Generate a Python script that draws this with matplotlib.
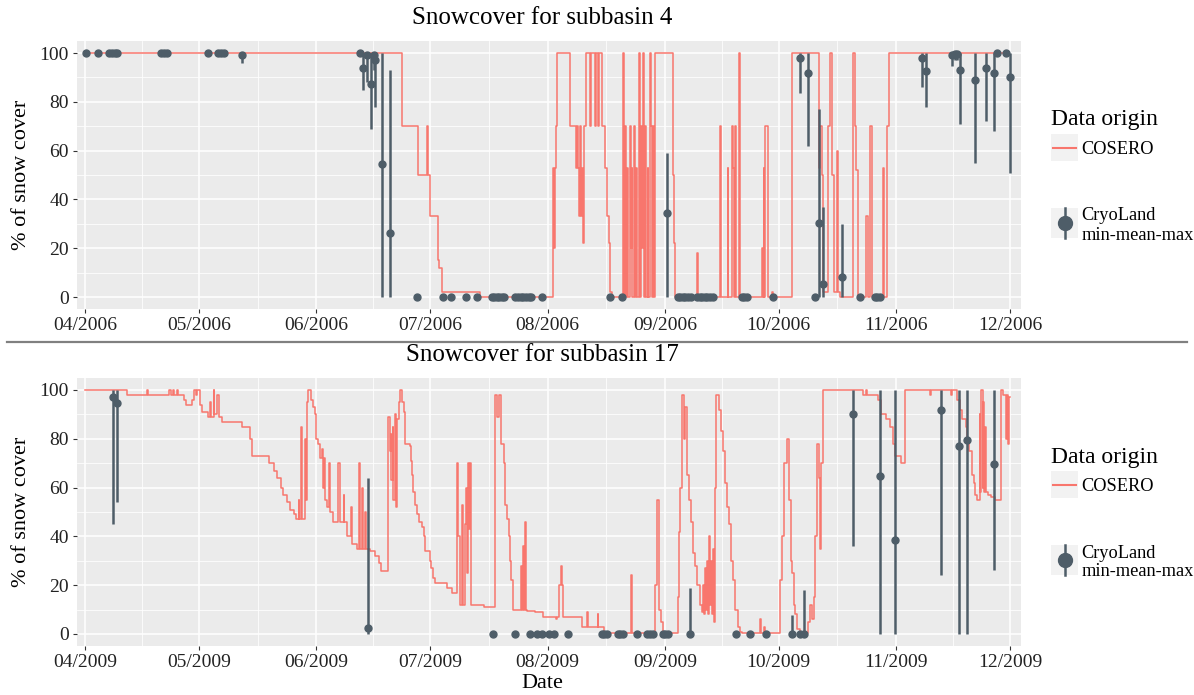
import numpy as np
import pandas as pd
import matplotlib
matplotlib.use('Agg')
import matplotlib.pyplot as plt
import matplotlib.dates as mdates
from matplotlib.patches import Rectangle
from matplotlib.lines import Line2D

plt.rcParams['font.family'] = ['Liberation Serif', 'DejaVu Serif']

# ---------------- subbasin 4, 2006 (days since 1 April) ----------------
start_4 = '2006-04-01'
cos4_day = [0, 83.6, 87.7, 90.2, 90.5, 91.0, 93.0, 93.4, 94.1, 104.2,
            123.4, 123.7, 124.0, 124.3, 124.6, 128.0, 129.5, 129.8, 130.0, 130.3,
            130.6, 130.9, 131.1, 131.4, 131.6, 132.1, 133.2, 133.5, 134.6, 134.8,
            135.4, 135.6, 136.3, 137.2, 137.7, 138.1, 138.5, 139.1, 141.9, 142.1,
            142.5, 142.7, 143.0, 143.3, 143.7, 143.9, 144.2, 144.4, 144.9, 145.1,
            145.4, 145.6, 146.2, 146.4, 146.7, 146.9, 147.2, 147.4, 147.8, 148.0,
            148.4, 148.6, 149.0, 149.2, 149.5, 149.8, 150.1, 150.4, 155.0, 155.3,
            155.7, 161.4, 161.7, 167.5, 167.7, 169.5, 169.7, 170.6, 170.9, 171.2,
            171.5, 171.8, 172.6, 172.8, 178.5, 178.8, 179.0, 179.2, 179.4, 180.3,
            181.3, 181.5, 186.5, 193.5, 193.9, 194.5, 194.8, 196.0, 196.6, 197.0,
            197.6, 198.3, 198.6, 199.2, 202.5, 203.0, 203.4, 204.0, 206.1, 206.6,
            207.0, 207.6, 210.6, 210.9, 211.5, 212.0, 243.8]
cos4_val = [100, 70, 50, 70, 50, 33, 15, 12, 2, 0,
            53, 20, 53, 70, 100, 70, 53, 70, 53, 33,
            70, 33, 53, 22, 70, 100, 70, 100, 70, 100,
            70, 100, 70, 53, 33, 22, 2, 0, 100, 0,
            70, 0, 53, 0, 70, 20, 53, 0, 70, 0,
            53, 0, 100, 0, 70, 20, 100, 0, 70, 0,
            53, 0, 100, 70, 0, 70, 0, 100, 50, 22,
            0, 18, 0, 70, 0, 53, 0, 70, 53, 0,
            70, 0, 100, 0, 20, 0, 53, 0, 70, 0,
            2, 0, 100, 53, 70, 50, 2, 70, 100, 50,
            2, 60, 2, 0, 100, 70, 52, 0, 33, 0,
            70, 0, 53, 0, 70, 100, 100]

cry4_day = [0.3, 3.3, 6.3, 7.1, 7.9, 8.4, 20.0, 20.7, 21.5, 32.3,
            35.1, 35.8, 36.5, 41.4, 72.4, 73.4, 74.3, 75.5, 76.1, 76.5,
            78.4, 80.5, 87.5, 94.5, 96.6, 100.5, 103.4, 107.3, 107.9, 108.6,
            109.3, 110.1, 110.6, 113.5, 114.2, 114.9, 115.6, 116.3, 117.0, 117.7,
            120.5, 138.5, 141.6, 153.6, 156.3, 157.0, 157.7, 158.4, 159.1, 159.8,
            161.4, 162.1, 162.8, 163.5, 164.2, 164.9, 165.6, 173.3, 173.9, 174.6,
            181.6, 188.7, 190.7, 192.6, 193.6, 194.6, 199.7, 204.5, 208.4, 209.0,
            209.8, 220.8, 221.8, 228.7, 229.4, 230.0, 230.9, 234.8, 237.7, 239.8,
            240.7, 242.9, 243.9]
cry4_mean = [100, 100, 100, 100, 100, 100, 100, 100, 100, 100,
             100, 100, 100, 99, 100, 94, 99, 87.5, 99, 97,
             54.5, 26.4, 0, 0, 0, 0, 0, 0, 0, 0,
             0, 0, 0, 0, 0, 0, 0, 0, 0, 0,
             0, 0, 0, 34.3, 0, 0, 0, 0, 0, 0,
             0, 0, 0, 0, 0, 0, 0, 0, 0, 0,
             0, 97.8, 92, 0, 30.5, 5.2, 8.3, 0, 0, 0,
             0, 98, 92.8, 99, 99.5, 99.5, 93, 89, 94, 92,
             100, 100, 90]
cry4_min = [100, 100, 100, 100, 100, 100, 100, 100, 100, 100,
            100, 100, 100, 96, 100, 85, 88, 69, 93, 78,
            0, 0, 0, 0, 0, 0, 0, 0, 0, 0,
            0, 0, 0, 0, 0, 0, 0, 0, 0, 0,
            0, 0, 0, 0, 0, 0, 0, 0, 0, 0,
            0, 0, 0, 0, 0, 0, 0, 0, 0, 0,
            0, 83.5, 62, 0, 0, 0, 0, 0, 0, 0,
            0, 86, 78, 94.5, 97, 97, 71, 55, 72, 68,
            100, 100, 51]
cry4_max = [100, 100, 100, 100, 100, 100, 100, 100, 100, 100,
            100, 100, 100, 100, 100, 100, 100, 100, 100, 100,
            100, 93, 0, 0, 0, 0, 0, 0, 0, 0,
            0, 0, 0, 0, 0, 0, 0, 0, 0, 0,
            0, 0, 0, 59, 0, 0, 0, 0, 0, 0,
            0, 0, 0, 0, 0, 0, 0, 0, 0, 0,
            0, 100, 100, 0, 77, 37, 29.8, 0, 0, 0,
            0, 100, 100, 100, 100, 100, 100, 100, 100, 100,
            100, 100, 100]

# ---------------- subbasin 17, 2009 (days since 1 April) ----------------
start_17 = '2009-04-01'
cos17_day = [0, 11.0, 16.4, 16.6, 22.2, 22.6, 23.1, 23.5, 24.2, 24.5,
             26.1, 26.6, 28.1, 28.6, 29.3, 29.6, 30.3, 30.8, 32.5, 33.0,
             33.2, 33.9, 34.1, 34.9, 35.3, 36.1, 41.3, 43.5, 44.0, 48.4,
             49.7, 50.6, 51.6, 52.3, 53.2, 54.1, 55.0, 55.7, 56.3, 56.5,
             56.9, 57.2, 58.0, 58.3, 58.5, 58.9, 59.5, 60.1, 60.7, 60.9,
             61.3, 62.0, 62.4, 62.7, 63.1, 63.4, 63.8, 64.3, 64.6, 65.5,
             66.8, 67.1, 68.2, 68.4, 69.2, 70.1, 70.4, 71.7, 72.2, 72.5,
             73.1, 73.4, 73.9, 74.1, 75.2, 76.5, 77.4, 78.0, 80.0, 80.3,
             80.6, 80.8, 81.1, 81.3, 81.7, 82.1, 82.4, 82.8, 83.1, 83.6,
             84.0, 84.4, 85.6, 85.9, 86.3, 86.6, 87.0, 87.5, 88.2, 88.9,
             89.3, 89.7, 90.9, 91.3, 91.7, 92.2, 95.4, 96.8, 98.1, 98.4,
             98.8, 99.3, 99.7, 100.3, 100.5, 100.8, 101.0, 101.3, 101.6, 101.9,
             105.1, 108.2, 108.6, 109.3, 109.7, 110.4, 110.9, 111.3, 111.7, 112.0,
             112.4, 112.8, 115.0, 115.2, 115.5, 115.7, 116.0, 116.3, 116.5, 118.7,
             120.9, 124.2, 124.4, 125.1, 125.5, 125.9, 126.2, 131.1, 132.4, 132.6,
             135.2, 135.4, 136.8, 144.1, 144.4, 150.4, 150.8, 151.3, 151.9, 152.4,
             156.3, 156.6, 157.0, 157.4, 157.9, 158.3, 158.8, 159.3, 159.8, 160.3,
             160.9, 161.4, 162.1, 162.7, 163.0, 163.2, 163.5, 163.8, 164.0, 164.3,
             164.6, 164.8, 165.1, 165.4, 165.6, 165.9, 166.1, 166.4, 167.2, 167.7,
             168.2, 168.9, 169.4, 169.9, 170.4, 171.0, 171.5, 172.2, 172.8, 173.3,
             178.1, 178.4, 179.2, 179.5, 183.4, 183.9, 184.4, 185.1, 185.7, 186.2,
             186.5, 186.9, 187.4, 187.9, 188.5, 190.8, 191.3, 191.7, 192.2, 192.7,
             193.1, 193.5, 193.9, 194.2, 194.6, 205.2, 205.9, 206.2, 209.3, 209.9,
             211.3, 212.4, 213.1, 213.6, 215.2, 216.2, 222.8, 223.1, 228.5, 228.8,
             230.0, 230.9, 231.4, 232.3, 232.8, 233.3, 233.9, 234.4, 234.8, 235.3,
             236.0, 236.2, 236.5, 236.8, 237.0, 237.3, 237.5, 237.8, 238.3, 239.0,
             240.1, 241.7, 242.3, 243.0, 243.3, 243.5, 243.8, 244.0]
cos17_val = [100, 98, 100, 98, 100, 98, 100, 98, 100, 98,
             96, 94, 96, 100, 98, 100, 94, 91, 89, 95,
             89, 100, 90, 98, 89, 87, 85, 80, 73, 70,
             67, 64, 60, 57, 54, 51, 49, 47, 55, 47,
             85, 47, 80, 55, 95, 100, 96, 93, 90, 80,
             78, 72, 76, 60, 72, 55, 52, 70, 50, 46,
             70, 46, 57, 46, 40, 52, 37, 35, 70, 35,
             60, 35, 50, 35, 34, 32, 29, 26, 89, 75,
             82, 63, 85, 55, 90, 52, 88, 95, 100, 95,
             91, 78, 77, 71, 65, 58, 53, 49, 46, 44,
             40, 34, 30, 27, 23, 21, 19, 17, 70, 40,
             12, 53, 12, 45, 60, 25, 70, 43, 70, 12,
             11, 98, 89, 98, 78, 70, 53, 47, 40, 30,
             22, 10, 28, 10, 36, 10, 46, 10, 9.5, 9,
             7, 6, 7, 20, 28, 20, 7, 3, 9, 3,
             8, 3, 0.5, 24, 0.5, 20, 55, 10, 5, 0.5,
             15, 42, 60, 98, 80, 93, 65, 55, 46, 33,
             28, 20, 12, 9, 20, 8, 27, 10, 30, 8,
             40, 12, 30, 8, 35, 5, 60, 98, 92, 83,
             75, 62, 52, 45, 30, 22, 10, 3, 1, 0.5,
             6, 0.5, 3, 0.5, 22, 40, 70, 80, 55, 30,
             25, 12, 8, 2, 0.5, 5, 12, 6, 15, 40,
             78, 64, 35, 70, 100, 98, 100, 98, 96, 90,
             88, 85, 78, 73, 70, 100, 98, 100, 98, 100,
             96, 92, 88, 85, 80, 75, 65, 62, 57, 55,
             90, 58, 100, 60, 95, 58, 85, 58, 57, 56,
             55, 100, 98, 80, 98, 78, 97, 97]

cry17_day = [7.2, 8.4, 74.5, 107.6, 113.5, 117.4, 119.3, 120.5, 122.5, 123.6,
             127.5, 136.3, 136.9, 137.6, 140.5, 141.2, 141.9, 145.6, 148.2, 149.1,
             149.8, 152.4, 153.1, 153.8, 159.6, 171.7, 175.5, 179.6, 186.6, 188.5,
             189.7, 202.6, 209.8, 213.7, 225.8, 230.7, 232.8, 239.7]
cry17_mean = [97, 94.7, 2.5, 0, 0, 0, 0, 0, 0, 0,
              0, 0, 0, 0, 0, 0, 0, 0, 0, 0,
              0, 0, 0, 0, 0, 0, 0, 0, 0, 0,
              0, 90.2, 64.9, 38.4, 91.9, 76.9, 79.6, 69.5]
cry17_min = [45.2, 54, 0, 0, 0, 0, 0, 0, 0, 0,
             0, 0, 0, 0, 0, 0, 0, 0, 0, 0,
             0, 0, 0, 0, 0, 0, 0, 0, 0, 0,
             0, 35.9, 0, 0, 24, 0, 0, 26.1]
cry17_max = [100, 100, 63.9, 0, 0, 0, 0, 0, 0, 0,
             0, 0, 0, 0, 0, 0, 0, 0, 0, 0,
             0, 0, 0, 0, 18.9, 0, 0, 0, 7.9, 0,
             17.9, 100, 100, 100, 100, 100, 100, 100]

W, H = 1194, 695
red = '#F8766D'
slate = '#4E5D68'


def to_dates(start, days):
    return pd.Timestamp(start) + pd.to_timedelta(np.asarray(days, dtype=float), unit='D')


def fx(x):
    return x / W


def fy(y):
    return 1 - y / H


fig = plt.figure(figsize=(W / 100, H / 100), dpi=100)

panels = [
    (start_4, cos4_day, cos4_val, cry4_day, cry4_mean, cry4_min, cry4_max,
     'Snowcover for subbasin 4', 0),
    (start_17, cos17_day, cos17_val, cry17_day, cry17_mean, cry17_min, cry17_max,
     'Snowcover for subbasin 17', 337),
]

for start, cd, cv, kd, kmean, kmin, kmax, title, dy in panels:
    top_px = 40.8 + dy
    bot_px = 309.2 + dy
    ax = fig.add_axes([fx(76.5), fy(bot_px), fx(1020.5) - fx(76.5), (bot_px - top_px) / H])
    ax.set_facecolor('#EBEBEB')
    for s in ax.spines.values():
        s.set_visible(False)

    # COSERO step line and CryoLand min-mean-max
    ax.step(to_dates(start, cd), cv, where='post', color=red, lw=1.1, zorder=3)
    kx = to_dates(start, kd)
    ax.vlines(kx, kmin, kmax, color=slate, lw=1.8, zorder=4)
    ax.plot(kx, kmean, 'o', color=slate, ms=5, zorder=5)

    t0 = pd.Timestamp(start)
    ax.set_xlim(t0 - pd.Timedelta(days=2.3), t0 + pd.Timedelta(days=246.8))
    ax.set_ylim(-5, 105)

    months = pd.date_range(t0, periods=9, freq='MS')
    mids = months[:-1] + (months[1:] - months[:-1]) / 2
    ax.set_xticks(months)
    ax.set_xticks(mids, minor=True)
    ax.xaxis.set_major_formatter(mdates.DateFormatter('%m/%Y'))
    ax.set_yticks([0, 20, 40, 60, 80, 100])
    ax.set_yticks([10, 30, 50, 70, 90], minor=True)

    ax.grid(which='major', color='white', lw=1.1)
    ax.grid(which='minor', color='white', lw=0.55)
    ax.set_axisbelow(True)
    ax.tick_params(which='major', length=3, width=0.8, color='#333333',
                   labelsize=14, labelcolor='#222222', pad=2.5)
    ax.tick_params(which='minor', length=0)

    fig.text(fx(542), fy(18 + dy), title, fontsize=18, ha='center', va='center')
    fig.text(fx(22), fy(175 + dy), '% of snow cover', fontsize=16, rotation=90,
             ha='center', va='center')

    # legend
    fig.text(fx(1050.7), fy(120 + dy), 'Data origin', fontsize=17, ha='left', va='center')
    fig.add_artist(Rectangle((fx(1050.7), fy(161 + dy)), fx(27.6), 26.7 / H,
                             transform=fig.transFigure, facecolor='#F2F2F2', edgecolor='none'))
    fig.add_artist(Line2D([fx(1052.7), fx(1076)], [fy(147.5 + dy)] * 2,
                          transform=fig.transFigure, color=red, lw=1.5))
    fig.text(fx(1081.7), fy(149.3 + dy), 'COSERO', fontsize=13.2, ha='left', va='center')
    fig.add_artist(Rectangle((fx(1050.7), fy(238.3 + dy)), fx(27.6), 30 / H,
                             transform=fig.transFigure, facecolor='#F2F2F2', edgecolor='none'))
    fig.add_artist(Line2D([fx(1064.5)] * 2, [fy(208.3 + dy), fy(238.3 + dy)],
                          transform=fig.transFigure, color=slate, lw=1.8))
    fig.add_artist(Line2D([fx(1064.5)], [fy(223.3 + dy)], transform=fig.transFigure,
                          color=slate, marker='o', ms=10, lw=0))
    fig.text(fx(1081.7), fy(216 + dy), 'CryoLand', fontsize=13.2, ha='left', va='center')
    fig.text(fx(1081.7), fy(235 + dy), 'min-mean-max', fontsize=13.2, ha='left', va='center')

fig.text(fx(542), fy(684), 'Date', fontsize=16, ha='center', va='center')
fig.add_artist(Line2D([fx(7), fx(1187)], [fy(341.7)] * 2, transform=fig.transFigure,
                      color='#808080', lw=1.6))

fig.savefig('out.png', dpi=100)
